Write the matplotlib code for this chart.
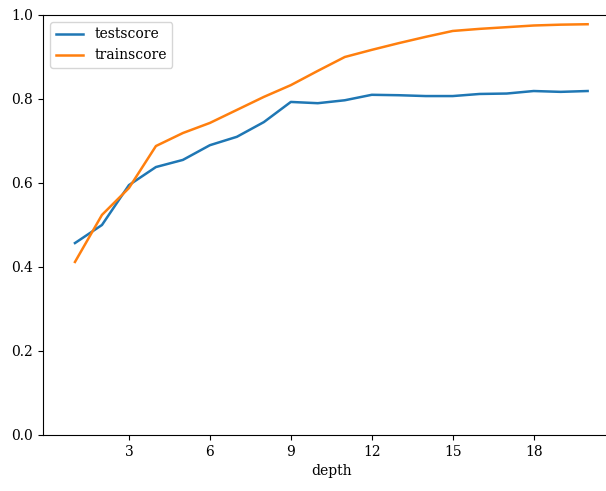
import matplotlib
matplotlib.use("Agg")
import matplotlib.pyplot as plt

depth = list(range(1, 21))
testscore = [0.457, 0.500, 0.595, 0.638, 0.655, 0.690, 0.710, 0.745, 0.793, 0.790,
             0.797, 0.810, 0.809, 0.807, 0.807, 0.812, 0.813, 0.819, 0.817, 0.819]
trainscore = [0.412, 0.524, 0.588, 0.688, 0.719, 0.743, 0.774, 0.805, 0.833, 0.867,
              0.900, 0.917, 0.933, 0.948, 0.962, 0.967, 0.971, 0.975, 0.977, 0.978]
xticks = [3, 6, 9, 12, 15, 18]
yticks = [0.0, 0.2, 0.4, 0.6, 0.8, 1.0]

plt.rcParams['font.family'] = 'DejaVu Serif'
plt.rcParams['font.size'] = 10

fig = plt.figure(figsize=(6.06, 4.91), dpi=100)
ax = fig.add_axes([43/606, 56/491, 577/606, 420/491])
ax.plot(depth, testscore, color='#1f77b4', label='testscore', lw=1.8)
ax.plot(depth, trainscore, color='#ff7f0e', label='trainscore', lw=1.8)
ax.set_xlim(-0.185, 21.2)
ax.set_ylim(0, 1.0)
ax.set_xticks(xticks)
ax.set_yticks(yticks)
ax.set_xlabel('depth')
ax.spines['right'].set_visible(False)
ax.legend(loc='upper left')
fig.savefig('out.png', dpi=100)
